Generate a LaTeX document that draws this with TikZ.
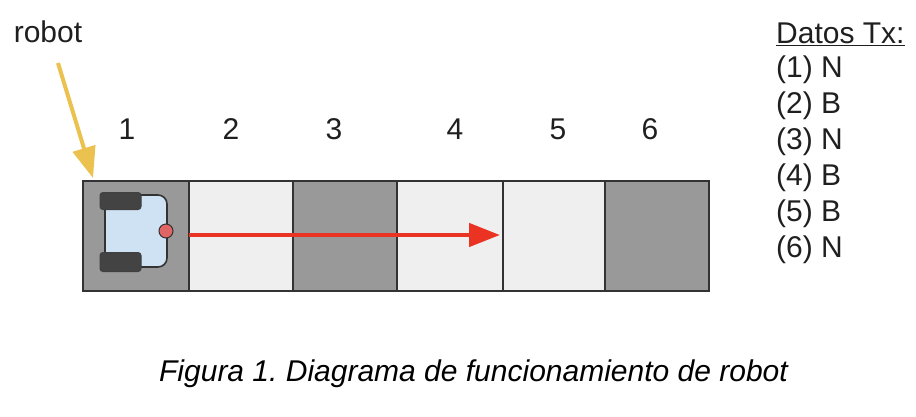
\documentclass[tikz,border=0pt]{standalone}
\usepackage{fontspec}
\setmainfont{Liberation Sans}
\usetikzlibrary{arrows.meta}
\definecolor{cellDark}{HTML}{999999}
\definecolor{cellLight}{HTML}{EFEFEF}
\definecolor{lineDark}{HTML}{333333}
\definecolor{robotBody}{HTML}{CFE2F3}
\definecolor{robotWheel}{HTML}{434343}
\definecolor{robotEye}{HTML}{E06666}
\definecolor{pathRed}{HTML}{EA3323}
\definecolor{markYellow}{HTML}{EBC24F}
\definecolor{textDark}{HTML}{1F1F1F}
\frenchspacing
\tikzset{
  cellbox/.style={draw=lineDark, line width=1.6pt, minimum height=110pt, inner sep=0pt, outer sep=0pt},
  plainlabel/.style={text=textDark, font=\fontsize{30}{30}\selectfont, inner sep=0pt},
  wheelbox/.style={draw=black!75, fill=robotWheel, line width=1pt, rounded corners=3pt, inner sep=0pt, outer sep=0pt},
}
\begin{document}
\begin{tikzpicture}[x=1pt, y=-1pt]
  \useasboundingbox (0,0) rectangle (916,416);
  % cells
  \foreach \n/\xa/\w/\c in {1/136/106/cellDark, 2/241/104/cellLight, 3/345/104/cellDark, 4/450/106/cellLight, 5/554/102/cellLight, 6/657/104/cellDark}
    \node[cellbox, fill=\c, minimum width=\w pt] (cell\n) at (\xa,236) {};
  % numbers
  \foreach \n/\xa in {1/127, 2/231, 3/334, 4/455, 5/558, 6/650}
    \node[plainlabel] (num\n) at (\xa,129) {\n};
  % robot
  \draw[lineDark, fill=robotBody, line width=1.6pt, rounded corners=9pt] (105,195) -- (167,195) -- (167,267) -- (105,267) [sharp corners] -- cycle;
  \node[wheelbox, minimum width=41pt, minimum height=17pt] (wheelTop) at (120.5,201) {};
  \node[wheelbox, minimum width=41pt, minimum height=19pt] (wheelBottom) at (120.5,262) {};
  \node[circle, draw=lineDark, fill=robotEye, line width=1pt, minimum size=14pt, inner sep=0pt] (eye) at (166,231) {};
  % arrows
  \coordinate (pathEnd) at (500,235);
  \draw[pathRed, line width=4.5pt, -{Triangle[length=31pt, width=23pt]}] (cell1.east |- pathEnd) -- (pathEnd);
  \node[plainlabel] (robotLabel) at (48,32) {robot};
  \coordinate (robotTail) at (58,63);
  \coordinate (robotTip) at (93,178);
  \draw[markYellow, line width=4pt, -{Triangle[length=31pt, width=23pt]}] (robotTail) -- (robotTip);
  % transmitted data
  \node[plainlabel, anchor=west] (dataTitle) at (776,34) {\underline{Datos Tx:}};
  \foreach \n/\v/\ya in {1/N/70, 2/B/106, 3/N/142, 4/B/178, 5/B/214, 6/N/250}
    \node[plainlabel, anchor=west] (data\n) at (776,\ya) {(\n) \v};
  % caption
  \node[text=black, font=\fontsize{30}{30}\selectfont\itshape, inner sep=0pt] (caption) at (473.5,374) {Figura 1. Diagrama de funcionamiento de robot};
\end{tikzpicture}
\end{document}
